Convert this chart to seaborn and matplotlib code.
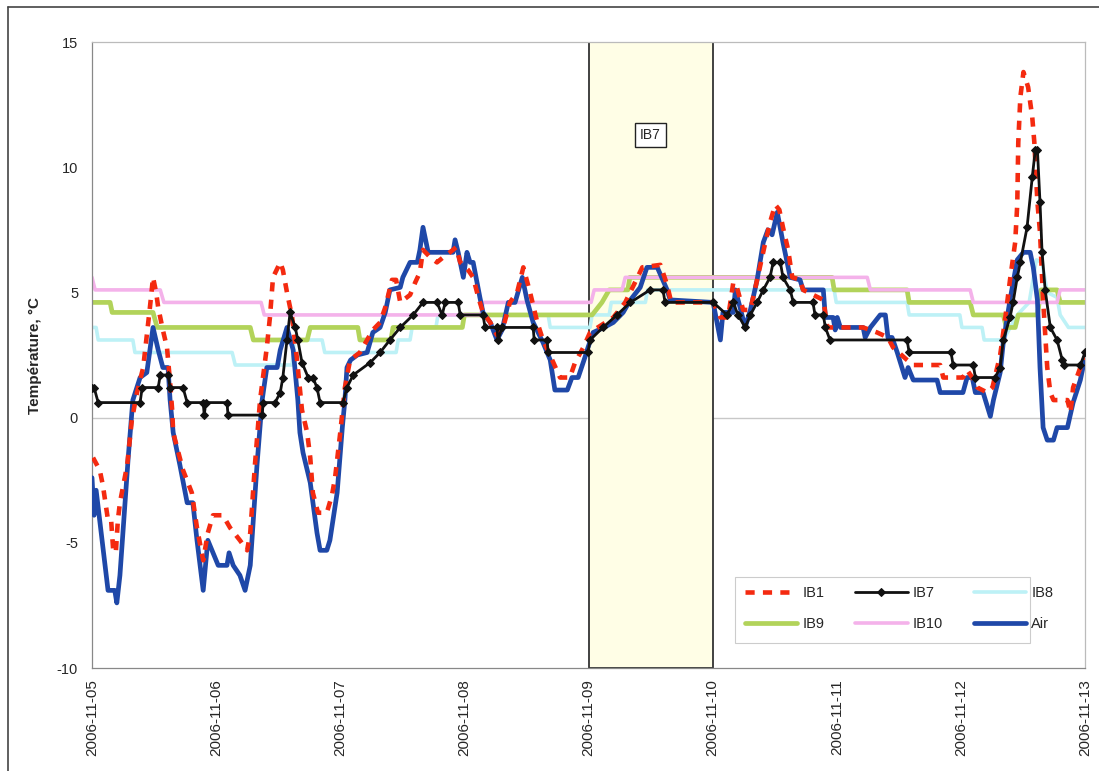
import numpy as np
import pandas as pd
import matplotlib
matplotlib.use("Agg")
import matplotlib.pyplot as plt
from matplotlib.lines import Line2D
from matplotlib.patches import Rectangle
import seaborn as sns

# ---------------- data (hours since 2006-11-05 00:00, °C) ----------------
start = pd.Timestamp("2006-11-05")
day_ticks = ["2006-11-05", "2006-11-06", "2006-11-07", "2006-11-08", "2006-11-09",
             "2006-11-10", "2006-11-11", "2006-11-12", "2006-11-13"]
band_start, band_end, band_label = "2006-11-09", "2006-11-10", "IB7"

air_h = [0, 0.4, 0.8, 3.1, 4.4, 4.8, 5.4, 7.0, 7.9, 9.3, 10.6, 11.8, 12.8, 13.7, 14.7, 15.1, 15.7,
         17.0, 18.4, 19.5, 20.3, 21.5, 22.4, 23.4, 24.4, 26.1, 26.5, 27.3, 28.6, 29.6, 30.6, 31.9,
         32.9, 33.8, 35.8, 36.4, 37.7, 38.9, 39.8, 40.2, 40.8, 42.2, 43.5, 44.1, 45.4, 46.0, 47.4,
         48.4, 48.9, 49.3, 50.0, 51.3, 53.2, 54.3, 55.7, 56.7, 57.6, 59.6, 60.1, 61.5, 62.9, 63.4,
         64.0, 65.0, 69.8, 70.2, 70.8, 71.8, 72.5, 73.1, 73.7, 75.0, 75.6, 77.0, 78.3, 79.3, 80.5,
         81.8, 83.2, 84.1, 85.3, 87.2, 88.6, 89.5, 91.9, 92.8, 94.0, 95.3, 95.9, 96.9, 99.0, 100.8,
         102.7, 104.1, 106.0, 107.3, 109.3, 111.2, 111.8, 120.1, 121.5, 122.0, 124.0, 124.4, 125.3,
         126.3, 127.3, 128.6, 129.8, 130.7, 131.5, 132.5, 133.6, 135.0, 136.9, 137.5, 141.4, 141.8,
         143.3, 143.7, 144.1, 144.7, 149.1, 149.5, 150.5, 152.4, 153.4, 153.9, 154.7, 155.7, 157.2,
         157.8, 158.8, 163.4, 164.0, 168.4, 169.2, 170.2, 170.8, 172.3, 173.7, 174.3, 175.6, 176.2,
         177.5, 178.9, 180.1, 181.4, 182.0, 182.8, 183.3, 183.9, 184.7, 185.9, 186.6, 188.6, 189.7,
         191.1, 192.0]
air_v = [-2.4, -3.9, -2.9, -6.9, -6.9, -7.4, -6.3, -1.6, 0.7, 1.6, 1.8, 3.6, 2.7, 2.0, 2.0, 0.7, -0.6,
         -1.9, -3.4, -3.4, -4.9, -6.9, -4.9, -5.4, -5.9, -5.9, -5.4, -5.9, -6.3, -6.9, -5.9, -1.9,
         0.7, 2.0, 2.0, 2.7, 3.6, 2.7, 0.7, -0.6, -1.4, -2.6, -4.6, -5.3, -5.3, -4.9, -3.0,
         -0.4, 0.7, 2.0, 2.3, 2.5, 2.6, 3.4, 3.6, 4.2, 5.1, 5.2, 5.6, 6.2, 6.2, 6.7,
         7.6, 6.6, 6.6, 7.1, 6.6, 5.6, 6.6, 6.2, 6.2, 4.8, 4.2, 3.8, 3.1, 3.5, 4.6,
         4.6, 5.6, 4.7, 3.8, 3.0, 2.3, 1.1, 1.1, 1.6, 1.6, 2.4, 2.8, 3.4, 3.6, 3.8,
         4.2, 4.7, 5.2, 6.0, 6.0, 5.1, 4.7, 4.6, 3.1, 4.2, 4.2, 5.1, 4.4,
         3.6, 4.3, 5.5, 7.0, 7.5, 7.3, 8.2, 7.0, 5.6, 5.5, 5.1, 5.1, 4.0,
         4.0, 3.5, 4.0, 3.6, 3.6, 3.2, 3.6, 4.1, 4.1, 3.2, 3.2, 2.6, 1.6,
         2.0, 1.5, 1.5, 1.0, 1.0, 1.6, 1.6, 1.0, 1.0, 0.05, 0.7, 1.8, 3.0,
         4.7, 6.3, 6.6, 6.6, 6.0, 4.7, 2.0, -0.4, -0.9, -0.9, -0.4, -0.4, 0.6,
         1.5, 2.4]

ib1_h = [0.2, 1.5, 2.1, 3.1, 3.7, 4.1, 4.6, 5.0, 5.4, 6.8, 7.7, 8.7, 9.9, 11.2, 11.8, 12.4, 12.8,
         13.7, 14.5, 15.1, 15.5, 15.7, 17.6, 19.3, 20.3, 21.5, 22.4, 23.4, 25.3, 26.7, 28.6, 30.0,
         30.6, 31.5, 32.5, 33.8, 34.4, 35.0, 36.4, 36.9, 37.7, 38.7, 39.6, 40.6, 41.6, 42.2, 42.7,
         43.7, 45.4, 46.4, 47.0, 48.0, 48.9, 49.9, 51.8, 54.3, 55.7, 56.7, 58.0, 58.8, 59.6, 61.5,
         62.5, 63.4, 64.0, 65.4, 66.7, 67.9, 69.2, 70.4, 71.2, 72.7, 73.7, 74.7, 75.6, 77.0, 78.3,
         79.5, 80.8, 82.2, 83.4, 84.7, 86.1, 87.2, 89.2, 90.5, 92.4, 93.4, 95.0, 96.3, 100.8, 103.1,
         105.0, 106.4, 109.9, 111.2, 112.0, 120.1, 121.5, 123.0, 124.0, 124.7, 125.9, 127.3, 128.6,
         130.2, 131.1, 132.1, 132.9, 133.6, 134.6, 135.4, 136.9, 137.5, 141.4, 142.2, 149.1, 151.8,
         153.9, 154.9, 157.6, 158.8, 164.0, 164.6, 168.4, 169.2, 170.2, 171.2, 173.1, 174.1, 175.6,
         176.6, 177.5, 178.5, 178.9, 179.1, 179.5, 180.1, 181.0, 181.8, 182.2, 182.8, 183.3, 183.9,
         184.7, 185.3, 185.9, 188.6, 189.2, 189.7, 191.1, 192.0]
ib1_v = [-1.6, -2.1, -2.7, -4.1, -4.1, -5.3, -5.4, -4.1, -3.4, -1.9, -0.1, 1.0, 2.0, 4.4, 5.6, 5.0, 4.4,
         3.5, 2.8, 1.4, 0.3, -0.6, -2.1, -3.0, -4.4, -5.7, -4.6, -3.9, -3.9, -4.4, -4.9, -5.3,
         -4.6, -1.9, 0.7, 2.8, 4.0, 5.6, 6.2, 5.9, 5.0, 4.0, 2.4, 0.3, -0.6, -1.6, -3.0,
         -3.8, -3.8, -3.1, -2.4, -0.6, 1.2, 2.3, 2.6, 3.5, 3.8, 4.4, 5.5, 5.5, 4.6, 4.9,
         5.4, 5.8, 6.7, 6.4, 6.2, 6.4, 6.6, 6.8, 6.2, 5.9, 5.6, 4.8, 4.2, 3.8, 3.3,
         3.6, 4.6, 5.0, 6.0, 5.0, 3.8, 3.1, 2.2, 1.6, 1.6, 2.2, 2.8, 3.4, 4.0, 4.6,
         5.4, 6.0, 6.1, 5.3, 4.6, 4.6, 4.0, 4.0, 5.4, 5.2, 4.3, 4.3, 5.5,
         7.0, 7.8, 8.5, 8.3, 7.6, 6.7, 5.6, 5.5, 5.1, 4.7, 3.6, 3.6, 3.4,
         3.2, 2.8, 2.3, 2.1, 2.1, 1.6, 1.6, 1.9, 1.6, 1.2, 1.0, 1.2, 2.5,
         4.0, 5.5, 7.0, 8.5, 11.0, 12.8, 13.8, 13.2, 12.0, 11.0, 8.6, 7.4, 4.7,
         2.0, 1.0, 0.7, 0.7, 0.2, 1.2, 2.0, 2.4]

ib7_h = [0, 0.4, 1.2, 9.3, 9.7, 12.8, 13.2, 14.7, 15.1, 17.6, 18.4, 21.5, 21.7, 22.0, 26.1, 26.3,
         32.9, 33.1, 35.4, 36.4, 36.9, 37.7, 38.3, 39.3, 39.8, 40.6, 41.8, 42.7, 43.5, 44.1, 48.5,
         49.3, 50.5, 53.8, 55.7, 57.6, 59.6, 62.1, 64.0, 66.7, 67.7, 68.3, 70.8, 71.2, 75.6, 76.0,
         78.3, 78.5, 79.3, 85.3, 85.5, 88.0, 88.2, 95.9, 96.3, 98.8, 101.5, 104.1, 107.9, 110.4,
         110.8, 120.1, 122.8, 124.0, 124.9, 126.3, 127.3, 128.6, 129.8, 131.1, 131.7, 133.1, 133.6,
         135.0, 135.6, 139.4, 139.8, 141.4, 141.8, 142.7, 157.6, 158.0, 166.1, 166.5, 170.4, 170.8,
         174.6, 175.6, 176.2, 177.5, 178.1, 178.9, 179.5, 180.8, 181.8, 182.4, 182.8, 183.3, 183.7,
         184.3, 185.3, 186.6, 187.6, 188.0, 191.1, 192.0]
ib7_v = [1.2, 1.2, 0.6, 0.6, 1.2, 1.2, 1.7, 1.7, 1.2, 1.2, 0.6, 0.6, 0.1, 0.6, 0.6, 0.1,
         0.1, 0.6, 0.6, 1.0, 1.6, 3.1, 4.2, 3.6, 3.1, 2.2, 1.6, 1.6, 1.2, 0.6, 0.6,
         1.2, 1.7, 2.2, 2.6, 3.1, 3.6, 4.1, 4.6, 4.6, 4.1, 4.6, 4.6, 4.1, 4.1, 3.6,
         3.6, 3.1, 3.6, 3.6, 3.1, 3.1, 2.6, 2.6, 3.1, 3.6, 4.1, 4.6, 5.1, 5.1,
         4.6, 4.6, 4.1, 4.6, 4.1, 3.6, 4.1, 4.6, 5.1, 5.6, 6.2, 6.2, 5.6,
         5.1, 4.6, 4.6, 4.1, 4.1, 3.6, 3.1, 3.1, 2.6, 2.6, 2.1, 2.1, 1.6,
         1.6, 2.0, 3.1, 4.0, 4.6, 5.6, 6.2, 7.6, 9.6, 10.7, 10.7, 8.6, 6.6,
         5.1, 3.6, 3.1, 2.3, 2.1, 2.1, 2.6]

ib8_h = [0, 0.8, 1.2, 7.9, 8.3, 27.1, 27.7, 38.7, 39.1, 44.5, 45.0, 58.8, 59.2, 61.5, 61.9, 66.5,
         66.9, 88.2, 88.6, 96.3, 96.7, 100.0, 100.4, 107.0, 107.4, 143.5, 143.9, 157.6, 158.0,
         167.8, 168.2, 172.1, 172.5, 176.2, 178.9, 181.2, 182.6, 183.7, 184.7, 186.6, 187.2,
         188.8, 192.0]
ib8_v = [3.6, 3.6, 3.1, 3.1, 2.6, 2.6, 2.1, 2.1, 3.1, 3.1, 2.6, 2.6, 3.1, 3.1, 3.6, 3.6,
         4.1, 4.1, 3.6, 3.6, 4.1, 4.1, 4.6, 4.6, 5.1, 5.1, 4.6, 4.6, 4.1,
         4.1, 3.6, 3.6, 3.1, 3.1, 4.1, 4.6, 6.3, 6.2, 5.0, 4.8, 4.1,
         3.6, 3.6]

ib9_h = [0, 3.5, 3.9, 11.8, 12.6, 30.6, 31.2, 41.6, 42.2, 51.4, 51.8, 57.8, 58.2, 71.6, 72.0,
         96.7, 98.6, 100.0, 103.6, 104.0, 143.1, 143.5, 157.6, 158.0, 169.8, 170.4, 176.2, 176.8,
         178.5, 179.1, 182.8, 183.5, 186.6, 187.2, 192.0]
ib9_v = [4.6, 4.6, 4.2, 4.2, 3.6, 3.6, 3.1, 3.1, 3.6, 3.6, 3.1, 3.1, 3.6, 3.6, 4.1,
         4.1, 4.6, 5.1, 5.1, 5.6, 5.6, 5.1, 5.1, 4.6, 4.6, 4.1, 4.1, 3.6,
         3.6, 4.1, 4.1, 5.1, 5.1, 4.6, 4.6]

ib10_h = [0, 0.6, 13.2, 13.9, 32.7, 33.3, 75.2, 75.6, 96.5, 97.1, 102.5, 103.1, 149.9, 150.5,
          169.8, 170.4, 186.6, 187.2, 192.0]
ib10_v = [5.6, 5.1, 5.1, 4.6, 4.6, 4.1, 4.1, 4.6, 4.6, 5.1, 5.1, 5.6, 5.6, 5.1,
          5.1, 4.6, 4.6, 5.1, 5.1]

# ---------------- figure ----------------
sns.set_style("white")
plt.rcParams["font.family"] = ["Liberation Sans", "DejaVu Sans"]
plt.rcParams["axes.unicode_minus"] = False

fig = plt.figure(figsize=(10.99, 7.71), dpi=100)
ax = fig.add_axes([92 / 1099, 1 - 668 / 771, 993 / 1099, 626 / 771])


def frame(h, v):
    return pd.DataFrame({"t": start + pd.to_timedelta(h, unit="h"), "v": v})


common = dict(x="t", y="v", ax=ax, estimator=None, sort=False)
sns.lineplot(data=frame(ib8_h, ib8_v), color="#BDF1F6", lw=2.6, label="IB8", zorder=2, **common)
sns.lineplot(data=frame(ib9_h, ib9_v), color="#B2D35A", lw=3.4, label="IB9", zorder=2.1, **common)
sns.lineplot(data=frame(ib10_h, ib10_v), color="#F4B2EA", lw=2.6, label="IB10", zorder=2.2, **common)
sns.lineplot(data=frame(air_h, air_v), color="#1F48A8", lw=3.4, label="Air", zorder=3, **common)
sns.lineplot(data=frame(ib1_h, ib1_v), color="#F42A10", lw=3.3, linestyle=(0, (2.0, 1.8)),
             label="IB1", zorder=3.5, **common)
sns.lineplot(data=frame(ib7_h, ib7_v), color="#111111", lw=2.0, marker="D", markersize=4.5,
             markeredgecolor="#111111", markerfacecolor="#111111", label="IB7", zorder=4, **common)

# shaded IB7 period
ax.axvspan(pd.Timestamp(band_start), pd.Timestamp(band_end), facecolor="#FFFEE6",
           edgecolor="#333333", lw=1.3, zorder=1)
ax.text(pd.Timestamp(band_start) + pd.Timedelta(hours=12), 11.3, band_label, ha="center",
        va="center", fontsize=10, zorder=6,
        bbox=dict(boxstyle="square,pad=0.35", fc="white", ec="#222222", lw=1))

ax.axhline(0, color="#C8C8C8", lw=1, zorder=0.8)

# axes
ax.set_xlim(pd.Timestamp(day_ticks[0]), pd.Timestamp(day_ticks[-1]))
ax.set_ylim(-10, 15)
ax.set_yticks([-10, -5, 0, 5, 10, 15])
ax.set_xticks([pd.Timestamp(d) for d in day_ticks])
ax.set_xticklabels(day_ticks, rotation=90, fontsize=11)
ax.tick_params(axis="x", length=0, pad=8)
ax.tick_params(axis="y", length=4, width=0.8, color="#777777", direction="out", labelsize=10.5, pad=6)
ax.set_xlabel("")
ax.set_ylabel("Température, °C", fontsize=11, fontweight="bold")
ax.yaxis.set_label_coords(-0.05, 0.5)
for side, sp in ax.spines.items():
    sp.set_visible(True)
    sp.set_color("#BBBBBB" if side in ("top", "right") else "#888888")
    sp.set_linewidth(0.9)

# legend box (drawn separately) and entries (row-wise: IB1 IB7 IB8 / IB9 IB10 Air)
ax.add_patch(Rectangle((0.6475, 0.040), 0.2971, 0.1054, transform=ax.transAxes, fill=True,
                       facecolor="white", edgecolor="#CCCCCC", lw=0.8, zorder=5))
handles, labels = ax.get_legend_handles_labels()
lookup = dict(zip(labels, handles))
order = ["IB1", "IB9", "IB7", "IB10", "IB8", "Air"]
leg = ax.legend([lookup[k] for k in order], order, ncol=3, loc="upper left",
                bbox_to_anchor=(0.6575, 0.131), fontsize=10.5, frameon=False,
                handlelength=3.6, handletextpad=0.35, columnspacing=2.1,
                borderpad=0.0, borderaxespad=0.0, labelspacing=1.2)
leg.set_zorder(6)

# outer chart frame (left and top)
fig.add_artist(Line2D([8 / 1099, 8 / 1099], [0, 1 - 7 / 771], transform=fig.transFigure,
                      color="#444444", lw=1.2))
fig.add_artist(Line2D([8 / 1099, 1], [1 - 7 / 771, 1 - 7 / 771], transform=fig.transFigure,
                      color="#444444", lw=1.2))

fig.savefig("out.png", dpi=100)
